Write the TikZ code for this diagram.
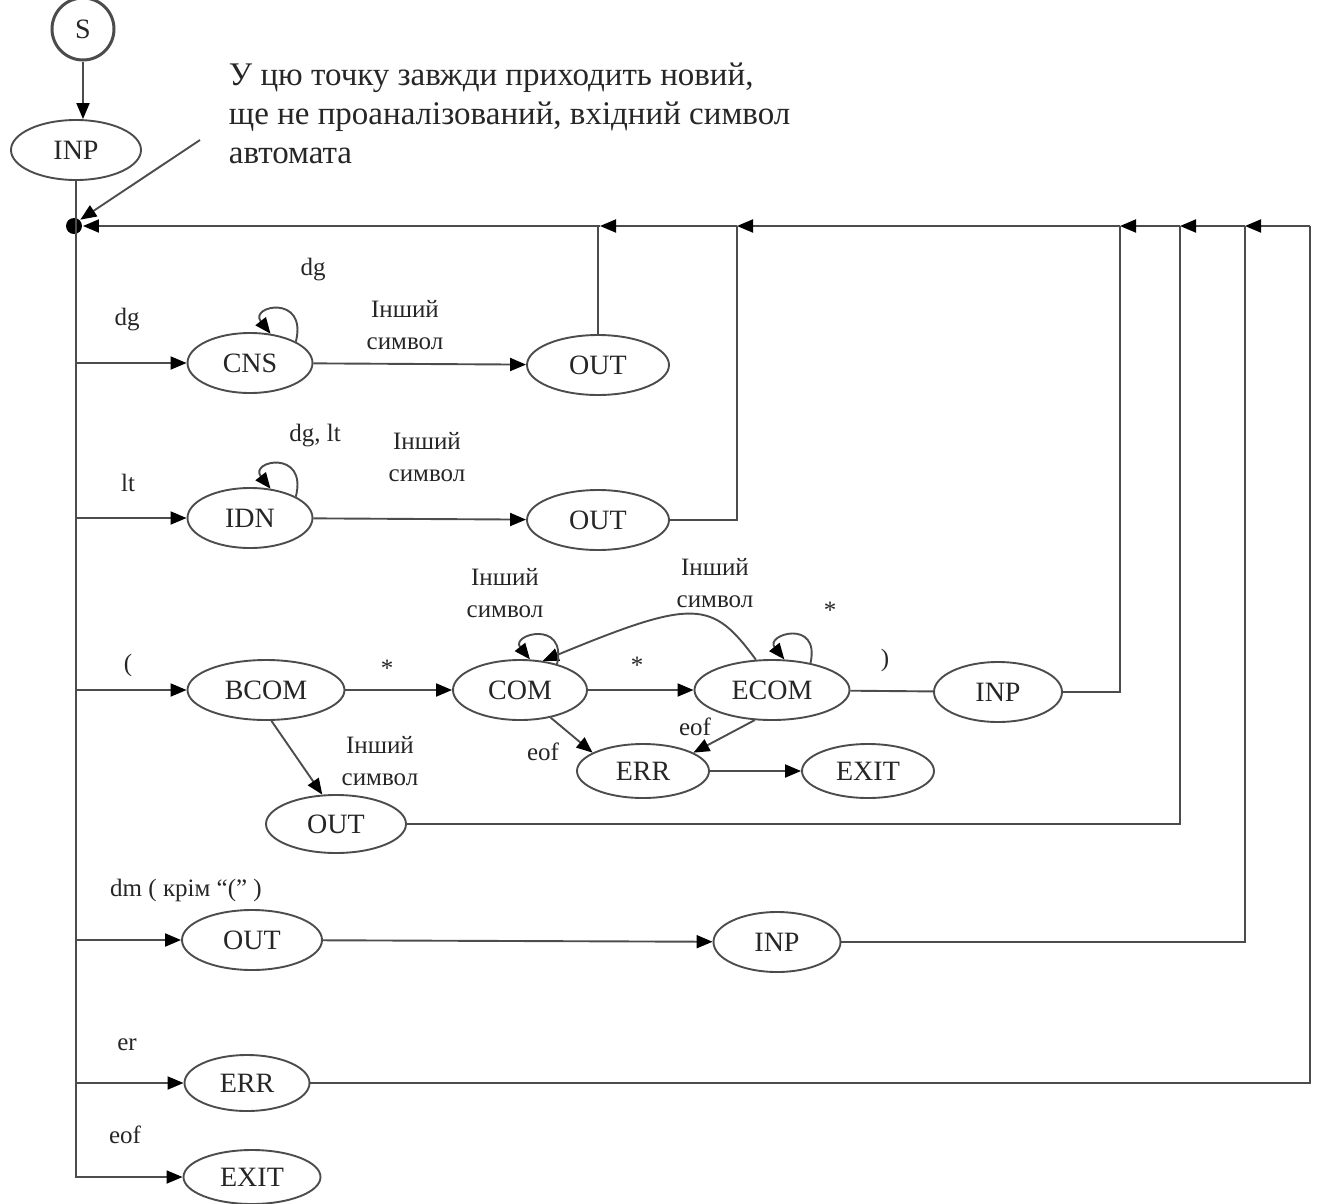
\documentclass[tikz,border=0pt]{standalone}
\usepackage{fontspec}
\setmainfont{Liberation Serif}
\usetikzlibrary{shapes.geometric,arrows.meta}

\begin{document}
\begin{tikzpicture}[x=1pt,y=-1pt,line width=1.9pt,draw=black!70,text=black!85,
  st/.style={draw,ellipse,minimum width=#1,minimum height=60pt,inner sep=0pt,
    font=\fontsize{28}{30}\selectfont},
  st/.default=130pt,
  arr/.style={-{Triangle[length=16pt,width=13pt,color=black]}},
  lbl/.style={font=\fontsize{25}{32}\selectfont,align=center,inner sep=0pt}]
  \useasboundingbox (0,0) rectangle (1323,1203);

  % Start and input
  \node[draw,circle,line width=3pt,minimum size=62pt,inner sep=0pt,
    font=\fontsize{28}{30}\selectfont] (s) at (83,29) {S};
  \node[st] (inp0) at (76,150) {INP};
  \node[circle,fill=black,inner sep=0pt,minimum size=16pt] (jn) at (74,226) {};
  \draw[arr] (s) -- (s |- inp0.north);
  \coordinate (bt) at (76,1178);
  \draw (inp0) -- (inp0 |- jn) -- (bt);

  % Note
  \node[anchor=north west,align=left,inner sep=0pt,
    font=\fontsize{33}{39}\selectfont] (note) at (228,62)
    {У цю точку завжди приходить новий,\\
     ще не проаналізований, вхідний символ\\
     автомата};
  \coordinate (ptr) at (200,140);
  \draw[arr] (ptr) -- (jn.north east);

  % States
  \node[st=125pt] (cns)  at (250,363) {CNS};
  \node[st=142pt] (out1) at (598,365) {OUT};
  \node[st=125pt] (idn)  at (250,518) {IDN};
  \node[st=142pt] (out2) at (598,520) {OUT};
  \node[st=157pt] (bcom) at (266,690) {BCOM};
  \node[st=134pt] (com)  at (520,690) {COM};
  \node[st=155pt] (ecom) at (772,690) {ECOM};
  \node[st=128pt] (inp3) at (998,692) {INP};
  \node[st=132pt,minimum height=54pt] (err3)  at (643,771) {ERR};
  \node[st=132pt,minimum height=54pt] (exit3) at (868,771) {EXIT};
  \node[st=140pt,minimum height=58pt] (out3)  at (336,824) {OUT};
  \node[st=140pt] (out4) at (252,940) {OUT};
  \node[st=127pt] (inp4) at (777,942) {INP};
  \node[st=125pt,minimum height=56pt] (err5)  at (247,1083) {ERR};
  \node[st=137pt,minimum height=54pt] (exit5) at (252,1177) {EXIT};

  % Branches from the trunk
  \foreach \y/\n in {363/cns,518/idn,690/bcom,940/out4,1083/err5,1177/exit5}{
    \coordinate (b-\n) at (76,\y);
    \draw[arr] (b-\n) -- (\n);
  }

  % Return line
  \coordinate (t1) at (600,226);
  \coordinate (t2) at (737,226);
  \coordinate (t3) at (1120,226);
  \coordinate (t4) at (1180,226);
  \coordinate (t5) at (1245,226);
  \coordinate (t6) at (1310,226);
  \foreach \a/\b in {t6/t5,t5/t4,t4/t3,t3/t2,t2/t1}
    \draw[arr] (\a) -- (\b);
  \draw[arr] (t1) -- (jn);
  \draw (out1) -- (out1 |- t1);
  \draw (out2) -| (t2);
  \draw (inp3) -| (t3);
  \draw (out3) -| (t4);
  \draw (inp4) -| (t5);
  \draw (err5) -| (t6);

  % Transitions
  \draw[arr] (cns) -- (out1);
  \draw[arr] (idn) -- (out2);
  \draw[arr] (bcom) -- (com);
  \draw[arr] (com) -- (ecom);
  \draw (ecom) -- (inp3);
  \draw[arr] (bcom.-80) -- (out3.115);
  \draw[arr] (com.-42) -- (err3.160);
  \draw[arr] (ecom.-120) -- (err3.20);
  \draw[arr] (err3) -- (exit3);
  \draw[arr] (out4) -- (inp4);
  \draw[arr] (ecom.118) .. controls (712,600) and (695,598) .. (com.52);

  % Loops
  \draw[arr] (cns.25) .. controls +(12,-48) and +(-22,-28) .. (cns.55);
  \draw[arr] (idn.25) .. controls +(12,-48) and +(-22,-28) .. (idn.55);
  \draw[arr] (com.35) .. controls +(10,-45) and +(-20,-25) .. (com.72);
  \draw[arr] (ecom.35) .. controls +(10,-45) and +(-20,-25) .. (ecom.68);

  % Labels
  \node[lbl] (l-dg1)  at (127,320) {dg};
  \node[lbl] (l-dg2)  at (313,270) {dg};
  \node[lbl] (l-oth1) at (405,325) {Інший\\символ};
  \node[lbl] (l-lt)   at (128,483) {lt};
  \node[lbl] (l-dglt) at (315,436) {dg, lt};
  \node[lbl] (l-oth2) at (427,457) {Інший\\символ};
  \node[lbl] (l-par)  at (128,665) {(};
  \node[lbl] (l-st1)  at (387,668) {*};
  \node[lbl] (l-oth3) at (505,593) {Інший\\символ};
  \node[lbl] (l-st2)  at (637,665) {*};
  \node[lbl] (l-oth4) at (715,583) {Інший\\символ};
  \node[lbl] (l-st3)  at (830,610) {*};
  \node[lbl] (l-cpar) at (885,660) {)};
  \node[lbl] (l-eof1) at (543,752) {eof};
  \node[lbl] (l-eof2) at (695,727) {eof};
  \node[lbl] (l-oth5) at (380,761) {Інший\\символ};
  \node[lbl] (l-dm)   at (186,890) {dm ( крім “(” )};
  \node[lbl] (l-er)   at (127,1045) {er};
  \node[lbl] (l-eof3) at (125,1135) {eof};
\end{tikzpicture}
\end{document}
